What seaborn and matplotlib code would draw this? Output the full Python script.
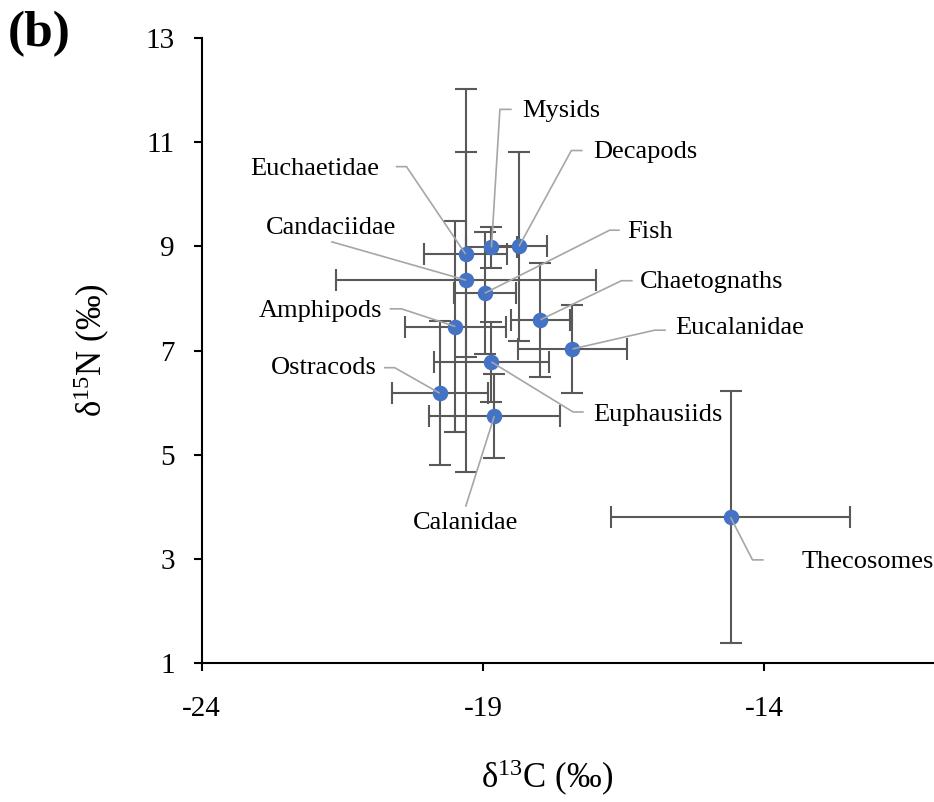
import matplotlib
matplotlib.use("Agg")
import matplotlib.pyplot as plt
import seaborn as sns
import pandas as pd

# group means and standard deviations (per mil)
groups = ["Mysids", "Decapods", "Euchaetidae", "Candaciidae", "Fish", "Chaetognaths",
          "Eucalanidae", "Amphipods", "Euphausiids", "Ostracods", "Calanidae", "Thecosomes"]
d13c = [-18.85, -18.36, -19.31, -19.30, -18.97, -17.98, -17.41, -19.49, -18.85, -19.77, -18.80, -14.60]
d13c_sd = [0.45, 0.50, 0.74, 2.31, 0.55, 0.52, 0.97, 0.89, 1.03, 0.85, 1.16, 2.13]
d15n = [8.98, 9.00, 8.85, 8.35, 8.10, 7.59, 7.03, 7.46, 6.78, 6.18, 5.74, 3.80]
d15n_sd = [0.40, 1.82, 1.97, 3.68, 1.17, 1.09, 0.85, 2.02, 0.77, 1.38, 0.81, 2.42]

x_ticks = [-24, -19, -14]
y_ticks = [1, 3, 5, 7, 9, 11, 13]

# label placement: text position, alignment, leader line bends (from the point outwards)
label_layout = {
    "Mysids":       ((-18.31, 11.60), "left",   [(-18.70, 11.63), (-18.49, 11.63)]),
    "Decapods":     ((-17.04, 10.82), "left",   [(-17.43, 10.84), (-17.23, 10.84)]),
    "Euchaetidae":  ((-20.85, 10.48), "right",  [(-20.36, 10.53), (-20.55, 10.53)]),
    "Candaciidae":  ((-21.70, 9.35),  "center", [(-21.70, 9.09)]),
    "Fish":         ((-16.43, 9.27),  "left",   [(-16.75, 9.31), (-16.57, 9.31)]),
    "Chaetognaths": ((-16.21, 8.31),  "left",   [(-16.54, 8.34), (-16.34, 8.34)]),
    "Eucalanidae":  ((-15.59, 7.43),  "left",   [(-15.95, 7.39), (-15.75, 7.39)]),
    "Amphipods":    ((-20.80, 7.76),  "right",  [(-20.45, 7.80), (-20.66, 7.80)]),
    "Euphausiids":  ((-17.05, 5.76),  "left",   [(-17.40, 5.82), (-17.21, 5.82)]),
    "Ostracods":    ((-20.89, 6.66),  "right",  [(-20.57, 6.67), (-20.76, 6.67)]),
    "Calanidae":    ((-19.31, 3.69),  "center", [(-19.31, 4.00)]),
    "Thecosomes":   ((-13.34, 2.94),  "left",   [(-14.21, 2.98), (-14.01, 2.98)]),
}

df = pd.DataFrame({"group": groups, "d13c": d13c, "d13c_sd": d13c_sd,
                   "d15n": d15n, "d15n_sd": d15n_sd})

sns.set_theme(style="ticks")
plt.rcParams["font.family"] = ["Liberation Serif", "DejaVu Serif"]
plt.rcParams["mathtext.fontset"] = "custom"
plt.rcParams["mathtext.rm"] = "Liberation Serif"
plt.rcParams["mathtext.it"] = "Liberation Serif:italic"
plt.rcParams["mathtext.bf"] = "Liberation Serif:bold"
plt.rcParams["axes.unicode_minus"] = False
plt.rcParams["text.color"] = "black"
plt.rcParams["axes.labelcolor"] = "black"

fig = plt.figure(figsize=(9.34, 8.02), dpi=100)
ax = fig.add_axes([0.216, 0.1733, 0.783, 0.7793])

ax.errorbar(df["d13c"], df["d15n"], xerr=df["d13c_sd"], yerr=df["d15n_sd"],
            fmt="none", ecolor="#595959", elinewidth=1.5, capsize=8, capthick=1.5, zorder=2)
sns.scatterplot(data=df, x="d13c", y="d15n", ax=ax, color="#4472C4", s=125,
                linewidth=0, zorder=3, legend=False)

for _, row in df.iterrows():
    (tx, ty), ha, bends = label_layout[row["group"]]
    xs = [row["d13c"]] + [b[0] for b in bends]
    ys = [row["d15n"]] + [b[1] for b in bends]
    ax.plot(xs, ys, color="#A6A6A6", lw=1.2, zorder=4, solid_capstyle="butt")
    ax.text(tx, ty, row["group"], ha=ha, va="center", fontsize=19, color="black", zorder=5)

ax.set_xlim(-24, -11)
ax.set_ylim(1, 13)
ax.set_xticks(x_ticks)
ax.set_yticks(y_ticks)
ax.tick_params(axis="both", direction="out", length=5.5, width=1.5, colors="black",
               labelcolor="black", labelsize=21)
ax.tick_params(axis="y", pad=14)
ax.tick_params(axis="x", pad=18)
for side in ["top", "right"]:
    ax.spines[side].set_visible(False)
for side in ["left", "bottom"]:
    ax.spines[side].set_linewidth(1.5)
    ax.spines[side].set_color("black")

ax.set_xlabel("δ$^{13}$C (‰)", fontsize=25, color="black")
ax.set_ylabel("δ$^{15}$N (‰)", fontsize=25, color="black")
ax.xaxis.set_label_coords(0.472, -0.152)
ax.yaxis.set_label_coords(-0.123, 0.5)

fig.text(0.008, 0.957, "(b)", fontsize=37, fontweight="bold", va="center", ha="left",
         color="black")

fig.savefig("out.png", dpi=100)
